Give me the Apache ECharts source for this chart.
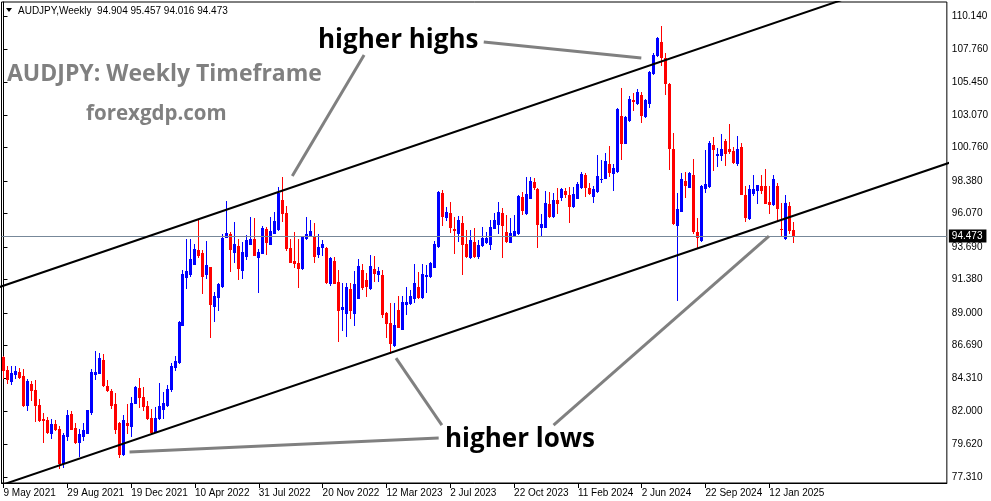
<!DOCTYPE html>
<html><head><meta charset="utf-8">
<script src="https://cdn.jsdelivr.net/npm/echarts@6/dist/echarts.min.js"></script>
<style>html,body{margin:0;padding:0;background:#fff}#c{width:991px;height:501px}</style>
</head><body><div id="c"></div>
<script>
// ---- DATA (AUDJPY weekly) ----
const opens = [85.83,84.93,84.17,84.67,84.79,84.50,82.44,83.93,83.50,82.44,81.44,81.37,80.42,81.08,80.73,78.28,80.23,81.80,80.80,79.82,
80.23,80.47,81.91,84.64,84.74,85.64,83.79,83.46,82.51,81.16,78.92,81.16,80.96,82.60,83.65,83.01,82.39,81.51,80.54,81.51,
82.18,82.41,83.55,85.15,85.50,88.13,91.57,91.76,92.48,93.47,93.24,91.76,92.24,89.49,90.15,90.91,94.42,94.61,93.33,93.78,
92.05,93.05,93.92,94.26,93.00,93.28,94.97,93.92,94.71,94.97,97.04,96.09,93.62,92.71,92.57,92.17,94.33,94.54,94.47,93.19,
93.66,93.64,91.15,92.71,91.20,89.30,89.01,90.67,89.01,90.08,92.05,91.34,90.74,92.14,91.76,91.69,88.96,88.30,86.71,89.20,
87.87,89.63,89.68,90.03,90.86,90.10,91.62,91.62,92.29,93.76,97.51,95.85,96.13,94.99,94.71,95.42,93.90,92.95,94.07,93.05,
93.81,94.07,93.88,95.06,95.33,96.09,94.76,94.07,94.57,94.66,97.27,96.09,97.20,98.32,97.84,95.14,95.14,96.75,95.92,97.04,
97.22,97.68,97.39,96.61,97.20,97.94,98.82,97.91,97.34,97.70,98.51,98.62,99.58,98.93,99.10,103.02,101.12,102.73,104.16,103.92,
104.51,103.02,103.92,106.06,107.34,108.29,107.12,105.30,100.64,95.26,96.28,98.39,97.99,98.79,94.76,94.19,97.87,98.03,100.95,100.26,
100.24,101.26,100.64,100.52,99.65,100.83,97.39,95.73,97.56,97.75,98.03,98.06,96.89,96.75,98.03,94.97,94.31,96.61,94.904];
const highs = [85.90,85.21,85.21,85.21,85.07,85.02,84.31,84.17,84.22,82.86,81.84,81.56,81.41,81.37,80.94,80.42,82.08,82.03,81.16,80.75,
81.13,82.08,85.02,86.31,86.12,86.07,84.22,83.55,83.27,81.20,81.72,82.51,82.98,83.79,84.38,83.72,82.75,82.13,82.29,84.00,
83.36,83.89,85.40,85.95,88.44,92.05,94.26,94.26,93.90,95.61,93.47,94.14,92.29,90.51,91.10,94.61,96.94,94.78,95.44,94.23,
94.04,94.54,95.80,95.73,93.52,95.18,95.14,95.85,96.20,97.94,98.65,96.61,94.23,94.76,94.23,94.45,95.85,95.61,95.42,94.59,
94.19,93.66,92.95,92.95,92.05,91.10,91.10,91.10,92.00,92.81,92.48,91.86,93.12,93.05,92.24,92.05,89.08,89.72,89.72,90.20,
90.20,90.86,90.63,92.48,91.93,92.48,92.41,92.64,94.14,97.70,97.75,96.51,96.92,95.85,95.90,95.90,94.90,94.90,95.02,94.19,
95.09,94.78,95.61,96.13,96.92,96.49,95.97,95.73,95.97,97.39,97.63,98.65,98.65,98.58,97.87,96.04,97.70,97.63,97.51,97.87,
97.87,97.91,97.94,97.94,98.32,99.05,98.93,98.27,98.03,100.24,99.88,100.36,100.88,99.60,103.56,104.99,103.02,104.44,104.68,104.92,
104.75,104.21,106.25,107.48,108.67,109.43,107.48,105.34,101.78,97.51,98.98,99.05,99.05,99.93,95.73,98.10,100.60,101.26,101.55,100.72,
101.74,101.36,102.42,100.83,101.60,101.07,98.03,98.10,98.82,98.10,98.79,99.22,98.06,98.82,98.27,96.85,97.39,96.89,95.457];
const lows = [84.34,84.03,83.93,84.34,84.34,82.36,82.08,82.79,81.32,81.32,79.82,80.47,80.11,80.66,77.93,78.00,79.94,80.70,79.71,78.80,
79.94,80.42,81.80,84.26,84.69,83.79,83.46,82.20,80.42,78.76,78.87,80.47,80.23,82.55,82.27,82.08,81.46,80.47,80.50,81.41,
81.51,82.39,83.40,84.90,85.45,88.10,90.74,91.62,92.45,93.00,90.44,91.48,87.30,88.44,89.20,90.86,94.40,92.00,92.64,91.43,
91.50,92.81,93.87,93.10,90.51,93.24,93.17,93.88,94.66,94.90,95.56,93.47,92.62,92.29,90.86,92.10,94.28,94.47,92.64,92.95,
93.12,91.15,90.98,91.10,87.02,87.78,87.37,88.61,88.13,90.03,90.70,90.20,90.70,91.27,91.27,88.73,87.30,86.16,86.64,87.96,
87.82,88.92,89.63,89.80,90.03,90.06,90.51,91.57,92.24,93.68,95.26,95.61,94.78,93.28,94.14,91.76,92.95,92.88,92.95,92.88,
93.76,94.00,93.55,95.02,94.71,93.00,94.07,94.02,94.52,94.61,96.04,96.04,97.15,97.84,93.71,94.54,95.09,95.85,95.80,96.13,
97.04,97.27,95.49,96.56,97.15,97.89,97.32,97.46,96.92,97.63,98.34,98.58,98.77,97.75,99.05,99.93,101.07,102.68,103.44,103.87,
102.61,102.97,103.63,106.01,107.29,106.65,104.59,99.22,95.32,89.91,96.23,97.27,97.94,94.66,93.71,94.14,97.63,97.99,99.17,99.46,
99.88,99.53,100.36,99.70,99.50,97.46,95.56,95.68,97.39,96.85,97.51,96.80,96.09,96.68,95.54,94.54,94.26,94.66,94.016];
const closes = [84.93,84.26,84.74,84.86,84.45,82.44,84.17,83.50,82.44,81.37,81.37,80.51,81.08,80.75,78.28,80.30,81.72,80.75,79.82,80.37,
80.66,82.05,84.79,84.79,85.78,83.86,83.50,82.44,80.73,78.92,81.37,81.04,82.55,83.72,82.98,82.39,81.51,80.54,81.51,82.39,
82.58,83.55,85.21,85.59,88.35,91.76,92.00,92.81,93.55,93.10,91.62,92.38,89.63,90.20,91.05,94.33,94.71,93.55,93.90,92.22,
93.36,94.19,94.26,93.12,93.33,95.04,94.07,94.83,95.56,97.56,96.09,93.64,92.64,92.57,92.22,94.42,94.61,94.85,93.07,93.69,
93.92,91.22,92.93,91.15,89.19,89.44,90.82,89.19,91.03,92.33,90.82,90.91,92.33,91.81,92.00,88.92,88.30,86.83,88.13,88.01,
89.77,89.77,90.20,91.10,90.13,91.76,91.69,92.57,93.92,97.60,95.90,96.18,95.09,94.92,95.61,93.90,93.05,94.19,93.05,93.83,
94.33,94.33,95.14,95.61,96.18,95.28,94.12,94.66,94.83,97.32,96.32,97.46,98.41,97.94,95.33,95.33,96.80,95.92,97.04,96.85,
97.80,97.49,96.61,97.49,98.17,98.89,97.94,97.51,97.84,98.74,98.55,99.81,99.05,99.29,103.52,101.12,102.97,104.20,104.06,104.73,
103.09,104.16,106.18,107.39,108.57,107.20,105.34,100.71,95.37,96.37,98.50,98.10,98.98,94.85,94.42,98.03,98.15,101.07,100.67,100.31,
100.64,100.41,100.52,99.77,100.64,97.49,95.85,97.82,97.82,98.08,97.75,96.85,96.75,98.53,96.44,94.95,96.85,94.90,94.473];

const yTicks = [110.14,107.76,105.45,103.07,100.76,98.38,96.07,93.69,91.38,89.00,86.69,84.31,82.00,79.62,77.31];
const xTickLabels = ['9 May 2021','29 Aug 2021','19 Dec 2021','10 Apr 2022','31 Jul 2022','20 Nov 2022','12 Mar 2023',
  '2 Jul 2023','22 Oct 2023','11 Feb 2024','2 Jun 2024','22 Sep 2024','12 Jan 2025'];
const weeksPerLabel = 16;
const lastPrice = 94.473;
const header = 'AUDJPY,Weekly  94.904 95.457 94.016 94.473';

// channel lines and annotation arrows: [bar index, price]
const upperChannel = [[-2, 90.74], [215, 111.75]];
const lowerChannel = [[-2, 76.59], [240, 99.97]];
const arrowsHighs = [[[120.4, 108.29], [159.9, 107.15]], [[90.4, 107.36], [72.4, 98.74]]];
const arrowsLows = [[[109.1, 80.09], [31.6, 79.09]], [[109.9, 81.01], [98.4, 85.78]], [[137.9, 81.01], [191.9, 94.47]]];

// ---- CHART ----
const SLOTS = 237;
const BULL = '#0000ff', BEAR = '#ff0000';
const cats = [];
const d0 = Date.UTC(2021, 4, 9);
for (let i = 0; i < SLOTS; i++) {
  const d = new Date(d0 + i * 7 * 86400000);
  cats.push(d.toISOString().slice(0, 10));
}
const candles = opens.map((o, i) => [i, o, closes[i], lows[i], highs[i]]);
const showTick = (idx) => idx % weeksPerLabel === 0 && idx / weeksPerLabel < xTickLabels.length;
const axisFont = '"Liberation Sans", Arial, sans-serif';
const openSans = '"Open Sans", "Noto Sans", sans-serif';

function renderCandle(params, api) {
  const i = api.value(0), o = api.value(1), c = api.value(2), l = api.value(3), h = api.value(4);
  const pO = api.coord([i, o]), pC = api.coord([i, c]), pL = api.coord([i, l]), pH = api.coord([i, h]);
  const xc = Math.floor(pO[0]);
  const color = c > o ? BULL : BEAR;
  const yTop = Math.round(Math.min(pO[1], pC[1]));
  const yBot = Math.round(Math.max(pO[1], pC[1]));
  const yH = Math.round(pH[1]), yL = Math.round(pL[1]);
  return {
    type: 'group',
    children: [
      { type: 'rect', shape: { x: xc, y: yH, width: 1, height: Math.max(1, yL - yH + 1) }, style: { fill: color } },
      { type: 'rect', shape: { x: xc - 1, y: yTop, width: 3, height: Math.max(1, yBot - yTop + 1) }, style: { fill: color } }
    ]
  };
}

const lineSeries = (pts, color, width) => ({
  type: 'line', xAxisIndex: 1, yAxisIndex: 0, data: pts, symbol: 'none', silent: true,
  lineStyle: { color: color, width: width }, clip: true, z: 5
});

const chart = echarts.init(document.getElementById('c'), null, { renderer: 'canvas' });
chart.setOption({
  animation: false,
  backgroundColor: '#fff',
  grid: { left: 1.5, right: 41, top: 2, bottom: 18, show: true, borderColor: '#000', borderWidth: 1, backgroundColor: '#fff' },
  xAxis: [{
    type: 'category', data: cats, boundaryGap: true,
    axisLine: { show: true, lineStyle: { color: '#000', width: 1 } },
    axisTick: { show: true, alignWithLabel: true, interval: (i) => showTick(i), length: 5, lineStyle: { color: '#000' } },
    axisLabel: { interval: (i) => showTick(i), formatter: (v, i) => xTickLabels[i / weeksPerLabel] || '',
      align: 'left', margin: 5, fontSize: 10, color: '#000', fontFamily: axisFont },
    splitLine: { show: false }
  }, {
    type: 'value', min: -0.5, max: SLOTS - 0.5, show: false
  }],
  yAxis: [{
    type: 'value', position: 'right', min: 76.883, max: 111.137, scale: true,
    axisLine: { show: true, lineStyle: { color: '#000', width: 1 } },
    axisTick: { show: true, length: 4, customValues: yTicks, lineStyle: { color: '#000' } },
    axisLabel: { customValues: yTicks, formatter: (v) => v.toFixed(3), margin: 5, fontSize: 10, color: '#000', fontFamily: axisFont },
    splitLine: { show: false }
  }],
  series: [
    {
      type: 'custom', xAxisIndex: 0, yAxisIndex: 0, data: candles, renderItem: renderCandle, clip: true,
      encode: { x: 0, y: [1, 2, 3, 4] }, silent: true, z: 3
    },
    {
      type: 'line', xAxisIndex: 1, yAxisIndex: 0, data: [], silent: true, z: 2,
      markLine: {
        silent: true, symbol: 'none', animation: false,
        lineStyle: { color: '#778899', width: 1, type: 'solid' },
        label: { show: true, position: 'end', distance: 2, formatter: () => lastPrice.toFixed(3),
          backgroundColor: '#000', color: '#fff', padding: [2, 4, 1, 3], fontSize: 10, fontFamily: axisFont },
        data: [{ yAxis: lastPrice }]
      }
    },
    lineSeries(upperChannel, '#000', 2),
    lineSeries(lowerChannel, '#000', 2),
    ...arrowsHighs.map(a => lineSeries(a, '#808080', 3)),
    ...arrowsLows.map(a => lineSeries(a, '#808080', 3))
  ],
  graphic: [
    { type: 'polygon', shape: { points: [[6, 8], [12, 8], [9, 12]] }, style: { fill: '#000' }, z: 10 },
    { type: 'text', style: { x: 18, y: 11, text: header, font: '10px ' + axisFont, fill: '#000', verticalAlign: 'middle' }, z: 10 },
    { type: 'text', style: { x: 7, y: 74, text: 'AUDJPY: Weekly Timeframe', font: 'bold 23px ' + openSans, fill: '#808080', verticalAlign: 'middle' }, z: 10 },
    { type: 'text', style: { x: 86, y: 114, text: 'forexgdp.com', font: 'bold 20.5px ' + openSans, fill: '#808080', verticalAlign: 'middle' }, z: 10 },
    { type: 'text', style: { x: 318, y: 41, text: 'higher highs', font: 'bold 26px ' + openSans, fill: '#000', verticalAlign: 'middle' }, z: 10 },
    { type: 'text', style: { x: 445, y: 440, text: 'higher lows', font: 'bold 26px ' + openSans, fill: '#000', verticalAlign: 'middle' }, z: 10 }
  ]
});
</script>
</body></html>
